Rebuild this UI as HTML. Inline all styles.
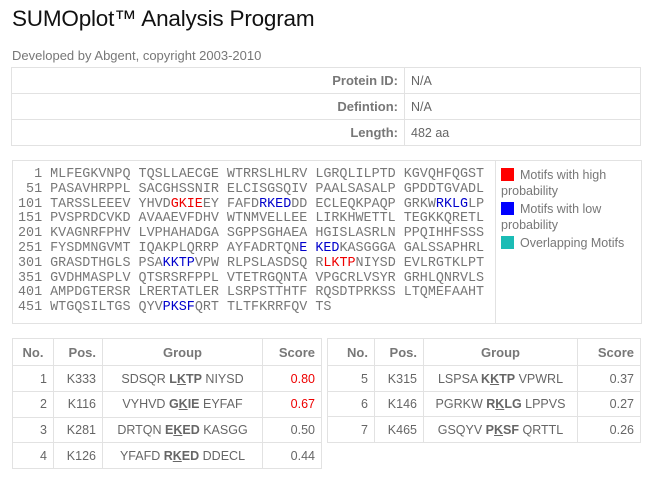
<!DOCTYPE html>
<html><head><style>
body{margin:0;width:655px;height:482px;background:#fff;font-family:"Liberation Sans",sans-serif;color:#666;position:relative;overflow:hidden}
.a{position:absolute}
h1{position:absolute;left:12px;top:6px;margin:0;font-size:22.5px;font-weight:normal;color:#111;letter-spacing:-0.2px}
.sub{left:12px;top:48px;font-size:13px;color:#777}
table{border-collapse:collapse;position:absolute;font-size:12.5px}
td,th{border:1px solid #e2e2e2;padding:0 6px;color:#666}
th{color:#777;font-weight:bold;font-size:13px}
pre{margin:0;font-family:"Liberation Mono",monospace;font-size:13.4px;line-height:14.8px;color:#777}
.r{color:#e00}.b{color:#00c}
.leg{font-size:12.5px;color:#777;line-height:16px;width:130px}
.sq{display:inline-block;width:13px;height:13px;vertical-align:-2px;margin-right:6px}
u{text-decoration:underline}
</style></head><body>
<h1>SUMOplot™ Analysis Program</h1>
<div class="a sub">Developed by Abgent, copyright 2003-2010</div>
<table style="left:11px;top:67px;width:630px;height:79px">
<tr><th style="text-align:right;width:380px">Protein ID:</th><td>N/A</td></tr>
<tr><th style="text-align:right">Defintion:</th><td>N/A</td></tr>
<tr><th style="text-align:right">Length:</th><td>482 aa</td></tr>
</table>
<div class="a" style="left:12px;top:160px;width:628px;height:162px;border:1px solid #e2e2e2"></div>
<div class="a" style="left:495px;top:160px;width:1px;height:163px;background:#e2e2e2"></div>
<pre class="a" style="left:18px;top:168px">  1 MLFEGKVNPQ TQSLLAECGE WTRRSLHLRV LGRQLILPTD KGVQHFQGST
 51 PASAVHRPPL SACGHSSNIR ELCISGSQIV PAALSASALP GPDDTGVADL
101 TARSSLEEEV YHVD<span class="r">GKIE</span>EY FAFD<span class="b">RKED</span>DD ECLEQKPAQP GRKW<span class="b">RKLG</span>LP
151 PVSPRDCVKD AVAAEVFDHV WTNMVELLEE LIRKHWETTL TEGKKQRETL
201 KVAGNRFPHV LVPHAHADGA SGPPSGHAEA HGISLASRLN PPQIHHFSSS
251 FYSDMNGVMT IQAKPLQRRP AYFADRTQN<span class="b">E KED</span>KASGGGA GALSSAPHRL
301 GRASDTHGLS PSA<span class="b">KKTP</span>VPW RLPSLASDSQ R<span class="r">LKTP</span>NIYSD EVLRGTKLPT
351 GVDHMASPLV QTSRSRFPPL VTETRGQNTA VPGCRLVSYR GRHLQNRVLS
401 AMPDGTERSR LRERTATLER LSRPSTTHTF RQSDTPRKSS LTQMEFAAHT
451 WTGQSILTGS QYV<span class="b">PKSF</span>QRT TLTFKRRFQV TS</pre>
<div class="a leg" style="left:501px;top:167px"><span class="sq" style="background:#f00"></span>Motifs with high probability</div>
<div class="a leg" style="left:501px;top:201px"><span class="sq" style="background:#00f"></span>Motifs with low probability</div>
<div class="a leg" style="left:501px;top:235px"><span class="sq" style="background:#1bbcb5"></span>Overlapping Motifs</div>
<table style="left:12px;top:338px;width:310px;height:131px">
<tr><th style="width:28px">No.</th><th style="width:36px;text-align:right">Pos.</th><th>Group</th><th style="text-align:right;width:46px">Score</th></tr>
<tr><td style="text-align:right">1</td><td style="text-align:right">K333</td><td style="text-align:center">SDSQR <b>L<u>K</u>TP</b> NIYSD</td><td style="text-align:right;color:#e00">0.80</td></tr>
<tr><td style="text-align:right">2</td><td style="text-align:right">K116</td><td style="text-align:center">VYHVD <b>G<u>K</u>IE</b> EYFAF</td><td style="text-align:right;color:#e00">0.67</td></tr>
<tr><td style="text-align:right">3</td><td style="text-align:right">K281</td><td style="text-align:center">DRTQN <b>E<u>K</u>ED</b> KASGG</td><td style="text-align:right">0.50</td></tr>
<tr><td style="text-align:right">4</td><td style="text-align:right">K126</td><td style="text-align:center">YFAFD <b>R<u>K</u>ED</b> DDECL</td><td style="text-align:right">0.44</td></tr>
</table>
<table style="left:327px;top:338px;width:314px;height:105px">
<tr><th style="width:34px;text-align:right">No.</th><th style="width:36px;text-align:right">Pos.</th><th>Group</th><th style="text-align:right;width:50px">Score</th></tr>
<tr><td style="text-align:right">5</td><td style="text-align:right">K315</td><td style="text-align:center">LSPSA <b>K<u>K</u>TP</b> VPWRL</td><td style="text-align:right">0.37</td></tr>
<tr><td style="text-align:right">6</td><td style="text-align:right">K146</td><td style="text-align:center">PGRKW <b>R<u>K</u>LG</b> LPPVS</td><td style="text-align:right">0.27</td></tr>
<tr><td style="text-align:right">7</td><td style="text-align:right">K465</td><td style="text-align:center">GSQYV <b>P<u>K</u>SF</b> QRTTL</td><td style="text-align:right">0.26</td></tr>
</table>
</body></html>
